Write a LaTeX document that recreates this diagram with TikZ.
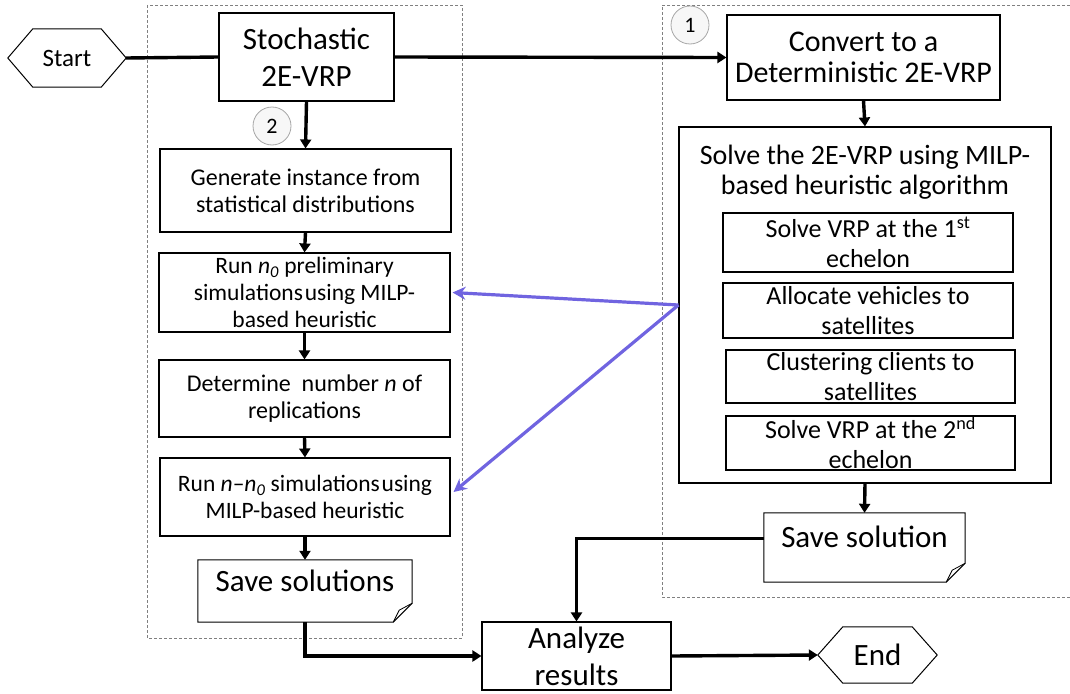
\documentclass[tikz,border=0pt]{standalone}
\usepackage{fontspec}
\setmainfont{Carlito}
\usetikzlibrary{arrows.meta}
\definecolor{purp}{RGB}{112,100,224}
\newcommand{\nsp}{\hspace{0.08em}}
\begin{document}
\begin{tikzpicture}[x=1pt,y=-1pt,
  box/.style={draw, line width=1.1pt, align=center, inner sep=0pt},
  plain/.style={align=center, inner sep=0pt},
  fa/.style={font=\fontsize{24}{27}\selectfont},
  fr/.style={font=\fontsize{23.5}{27}\selectfont},
  fb/.style={font=\fontsize{26}{30}\selectfont},
  fc/.style={font=\fontsize{28}{30}\selectfont},
  fe/.style={font=\fontsize{30}{30.5}\selectfont},
  fd/.style={font=\fontsize{31}{37}\selectfont},
  flow/.style={line width=3.4pt, -{Triangle[length=9pt,width=11pt]}},
  link/.style={line width=3.4pt},
  frame/.style={draw=gray, line width=0.7pt, dash pattern=on 3pt off 2pt},
  num/.style={circle, draw=gray!70, line width=0.8pt, minimum size=38pt, inner sep=0pt, fill=gray!6, font=\fontsize{22}{22}\selectfont},
  outline/.style={draw, line width=1pt},
  purparrow/.style={draw=purp, line width=3.2pt, -{Stealth[length=13pt,width=13pt]}}
]
\useasboundingbox (0,0) rectangle (1070,693);

% dashed frames
\draw[frame] (147,5) rectangle (462,638);
\draw[frame] (1075,5) -- (662,5) -- (662,597) -- (1075,597);

% start / end terminals
\node[plain, minimum width=118pt, minimum height=58pt, font=\fontsize{25}{30}\selectfont] (start) at (67,58) {Start};
\draw[outline] (start.west) -- ([xshift=25pt]start.north west) -- ([xshift=-25pt]start.north east) -- (start.east) -- ([xshift=-25pt]start.south east) -- ([xshift=25pt]start.south west) -- cycle;

\node[plain, minimum width=119pt, minimum height=56pt, fd] (end) at (877.5,655) {End};
\draw[outline] (end.west) -- ([xshift=25pt]end.north west) -- ([xshift=-25pt]end.north east) -- (end.east) -- ([xshift=-25pt]end.south east) -- ([xshift=25pt]end.south west) -- cycle;

% left column
\node[box, minimum width=175pt, minimum height=88pt, fd] (stoch) at (306.5,57) {Stochastic\\2E-VRP};
\node[num] (c2) at (272,126) {2};
\node[box, minimum width=291pt, minimum height=83pt, fa] (gen) at (305.5,190.5) {Generate instance from\\statistical distributions};
\node[box, minimum width=291pt, minimum height=79pt, fr] (run0) at (304.5,292.5) {Run \textit{n\textsubscript{0}} preliminary\\simulations\nsp using MILP-\\based heuristic};
\node[box, minimum width=291pt, minimum height=77pt, fa] (det) at (304.5,398.5) {Determine\ \ number \textit{n} of\\replications};
\node[box, minimum width=290pt, minimum height=78pt, fr] (runn) at (305,497) {Run \textit{n}--\textit{n\textsubscript{0}} simulations\nsp using\\MILP-based heuristic};
\node[plain, minimum width=214pt, minimum height=62pt, fd, text height=20pt, text depth=20pt] (saves) at (305,591) {Save solutions};
\draw[outline] (saves.north west) -- (saves.north east) -- ([yshift=19pt]saves.south east) -- ([xshift=-19pt]saves.south east) -- (saves.south west) -- cycle;
\draw[line width=0.8pt] ([xshift=-19pt]saves.south east) -- ([xshift=-13pt,yshift=12pt]saves.south east) -- ([yshift=19pt]saves.south east);

% right column
\node[num] (c1) at (690,25) {1};
\node[box, minimum width=273pt, minimum height=85pt, fe] (conv) at (863.5,57.5) {Convert to a\\Deterministic 2E-VRP};
\node[box, minimum width=372pt, minimum height=356pt] (big) at (865,305) {};
\node[plain, fc] (bigt) at (865,172) {Solve the 2E-VRP using MILP-\\based heuristic algorithm};
\node[box, minimum width=290pt, minimum height=59pt, fb] (vrp1) at (868,242.5) {Solve VRP at the 1\textsuperscript{st}\\echelon};
\node[box, minimum width=290pt, minimum height=55pt, fb] (alloc) at (868,310.5) {Allocate vehicles to\\satellites};
\node[box, minimum width=289pt, minimum height=53pt, fb] (clus) at (870.5,376.5) {Clustering clients to\\satellites};
\node[box, minimum width=289pt, minimum height=54pt, fb] (vrp2) at (870.5,443) {Solve VRP at the 2\textsuperscript{nd}\\echelon};
\node[plain, minimum width=201pt, minimum height=69pt, fd, text height=20pt, text depth=20pt] (savesol) at (864.5,547.5) {Save solution};
\draw[outline] (savesol.north west) -- (savesol.north east) -- ([yshift=19pt]savesol.south east) -- ([xshift=-19pt]savesol.south east) -- (savesol.south west) -- cycle;
\draw[line width=0.8pt] ([xshift=-19pt]savesol.south east) -- ([xshift=-13pt,yshift=12pt]savesol.south east) -- ([yshift=19pt]savesol.south east);

\node[box, minimum width=189pt, minimum height=68pt, fd] (anal) at (576.5,656) {Analyze\\results};

% connectors
\draw[link] (start.east) -- (stoch.west);
\draw[flow] (stoch.east) -- (conv.west);
\draw[flow] (stoch.south) -- (gen.north);
\draw[flow] (gen.south) -- (run0.north);
\draw[flow] (run0.south) -- (det.north);
\draw[flow] (det.south) -- (runn.north);
\draw[flow] (runn.south) -- (saves.north);
\draw[flow] (saves.south) |- (anal.west);
\draw[flow] (conv.south) -- (big.north);
\draw[flow] (big.south) -- (savesol.north);
\draw[flow] ([yshift=9pt]savesol.west) -| (anal.north);
\draw[flow] (anal.east) -- (end.west);

\draw[purparrow] (big.west) -- ([xshift=2pt]run0.east);
\draw[purparrow] (big.west) -- ([xshift=3pt,yshift=5pt]runn.east);
\end{tikzpicture}
\end{document}
